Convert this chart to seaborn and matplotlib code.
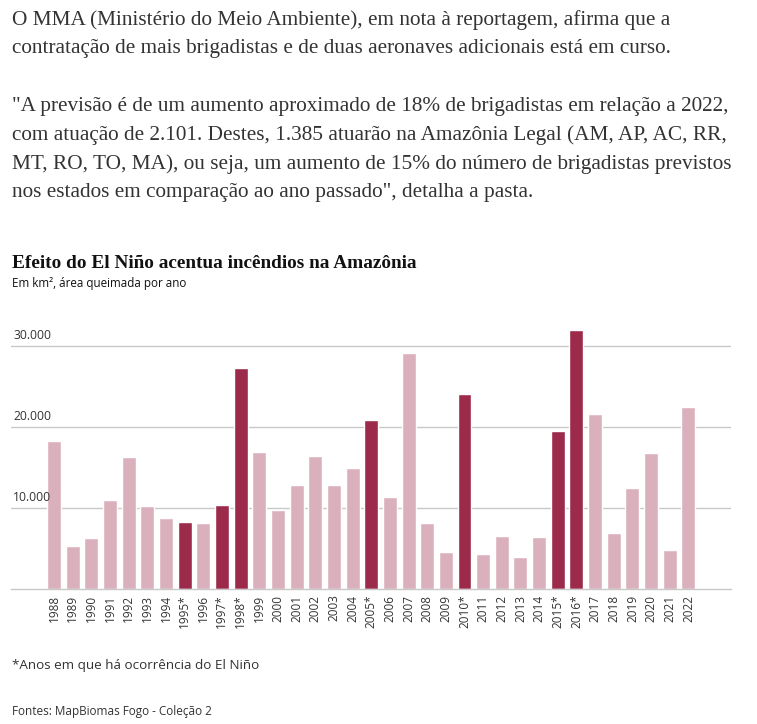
import matplotlib.pyplot as plt
import matplotlib.transforms as mtransforms
import pandas as pd
import seaborn as sns

# ── Data ────────────────────────────────────────────────────
years = [
    "1988", "1989", "1990", "1991", "1992", "1993", "1994", "1995*", "1996",
    "1997*", "1998*", "1999", "2000", "2001", "2002", "2003", "2004", "2005*",
    "2006", "2007", "2008", "2009", "2010*", "2011", "2012", "2013", "2014",
    "2015*", "2016*", "2017", "2018", "2019", "2020", "2021", "2022",
]
area_km2 = [
    18250, 5300, 6300, 11000, 16300, 10250, 8770, 8270, 8150,
    10370, 27280, 16900, 9750, 12840, 16420, 12840, 14940, 20860,
    11360, 29140, 8150, 4570, 24070, 4320, 6540, 3950, 6420,
    19500, 31980, 21600, 6910, 12470, 16790, 4810, 22470,
]
grid_values = [10000, 20000, 30000]
grid_labels = ["10.000", "20.000", "30.000"]

df = pd.DataFrame({"ano": years, "area": area_km2})
df["el_nino"] = df["ano"].str.endswith("*")

# ── Style ───────────────────────────────────────────────────
sns.set_theme(style="white")
SANS = ["Open Sans", "DejaVu Sans"]
SERIF = ["Liberation Serif", "DejaVu Serif"]
plt.rcParams["font.family"] = SANS

DARK = "#9c2a4b"
LIGHT = "#dbb0bd"
TEXT = "#333333"
GRID = "#c8c8c8"

fig = plt.figure(figsize=(7.57, 7.24), dpi=100)

# ── Article text ────────────────────────────────────────────
para1 = [
    "O MMA (Ministério do Meio Ambiente), em nota à reportagem, afirma que a",
    "contratação de mais brigadistas e de duas aeronaves adicionais está em curso.",
]
para2 = [
    "\"A previsão é de um aumento aproximado de 18% de brigadistas em relação a 2022,",
    "com atuação de 2.101. Destes, 1.385 atuarão na Amazônia Legal (AM, AP, AC, RR,",
    "MT, RO, TO, MA), ou seja, um aumento de 15% do número de brigadistas previstos",
    "nos estados em comparação ao ano passado\", detalha a pasta.",
]
for i, line in enumerate(para1):
    fig.text(12 / 757, 1 - (20 + 29 * i) / 724, line, family=SERIF,
             fontsize=15.3, color=TEXT, va="center")
for i, line in enumerate(para2):
    fig.text(12 / 757, 1 - (106 + 29 * i) / 724, line, family=SERIF,
             fontsize=15.3, color=TEXT, va="center")

# ── Chart titles ────────────────────────────────────────────
fig.text(12 / 757, 1 - 263 / 724, "Efeito do El Niño acentua incêndios na Amazônia",
         family=SERIF, fontsize=13.9, fontweight="bold", color="#111111", va="center")
fig.text(12 / 757, 1 - 284 / 724, "Em km², área queimada por ano",
         fontsize=8.4, color="#111111", va="center")

# ── Bars ────────────────────────────────────────────────────
ax = fig.add_axes([11 / 757, 1 - 589 / 724, 720 / 757, 259 / 724])
sns.barplot(
    data=df, x="ano", y="area", hue="el_nino",
    palette={True: DARK, False: LIGHT}, dodge=False,
    width=0.75, saturation=1, legend=False, ax=ax,
)
ax.set_xlim(-2.3, 36.28)
ax.set_ylim(0, 32000)

lift = mtransforms.ScaledTranslation(0, 3 / 72, fig.dpi_scale_trans)
ytrans = mtransforms.blended_transform_factory(ax.transAxes, ax.transData) + lift
for v, lab in zip(grid_values, grid_labels):
    ax.axhline(v, color=GRID, linewidth=1, zorder=0)
    ax.text(0.003, v, lab, transform=ytrans,
            fontsize=8.7, color=TEXT, va="bottom", ha="left", zorder=5)

for s in ["top", "right", "left"]:
    ax.spines[s].set_visible(False)
ax.spines["bottom"].set_color(GRID)
ax.spines["bottom"].set_linewidth(1)
ax.set_yticks([])
ax.set_xlabel("")
ax.set_ylabel("")
ax.tick_params(axis="x", length=0, pad=4, labelsize=8.5, labelcolor=TEXT, rotation=90)

# ── Footer ──────────────────────────────────────────────────
fig.text(12 / 757, 1 - 666 / 724, "*Anos em que há ocorrência do El Niño",
         fontsize=9.7, color=TEXT, va="center")
fig.text(12 / 757, 1 - 712 / 724, "Fontes: MapBiomas Fogo - Coleção 2",
         fontsize=8.5, color=TEXT, va="center")

plt.savefig("out.png", dpi=100)
plt.close()
